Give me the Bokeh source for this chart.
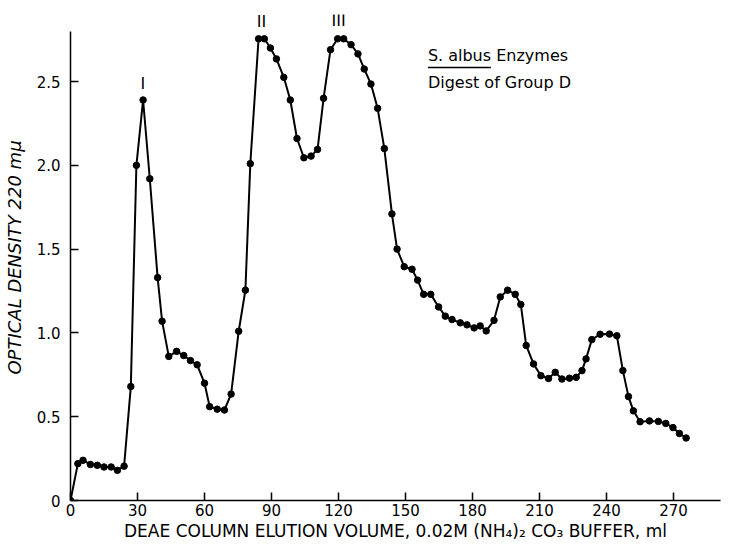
from bokeh.plotting import figure
from bokeh.models import FixedTicker, Range1d
from bokeh.core.properties import value
from bokeh.embed import file_html
from bokeh.resources import INLINE

# Elution volume (ml) and optical density at 220 mμ
volume_ml = [0, 3.3, 5.6, 8.9, 12, 15, 18.2, 21, 24, 27, 29.5, 32.5, 35.5, 39, 41, 44,
             47.5, 50.7, 53.7, 56.7, 60, 62.3, 65.7, 68.9, 71.9, 75.3, 78.3, 80.5,
             84.2, 86.8, 89.5, 92.2, 95.5, 98.4, 101.4, 104.5, 107.7, 110.6, 113.3,
             116.4, 119.6, 122.3, 125.6, 128.7, 131.5, 134.5, 137.5, 140.5, 143.9,
             146.2, 149.4, 152.9, 155.4, 158.1, 161.3, 164.8, 167.8, 170.8, 174.5,
             177.5, 180.7, 183.4, 186.1, 189.6, 192.4, 195.7, 199.1, 201.6, 204,
             207.3, 210.6, 214, 217, 220, 223.4, 226.4, 229, 230.8, 233.4, 237.1,
             241.3, 244.6, 247.3, 249.8, 252, 255, 259.2, 263.2, 266.5, 269.7,
             272.6, 275.6]
optical_density = [0, 0.22, 0.24, 0.215, 0.21, 0.2, 0.2, 0.18, 0.205, 0.68, 2.0, 2.39,
                   1.92, 1.33, 1.07, 0.86, 0.89, 0.865, 0.835, 0.81, 0.70, 0.56, 0.545,
                   0.54, 0.635, 1.01, 1.255, 2.01, 2.755, 2.755, 2.70, 2.635, 2.525,
                   2.39, 2.16, 2.045, 2.055, 2.095, 2.40, 2.69, 2.755, 2.755, 2.72,
                   2.665, 2.575, 2.485, 2.34, 2.10, 1.71, 1.50, 1.395, 1.38, 1.315,
                   1.23, 1.23, 1.155, 1.10, 1.08, 1.06, 1.048, 1.03, 1.042, 1.012,
                   1.075, 1.215, 1.255, 1.23, 1.17, 0.925, 0.815, 0.745, 0.728, 0.765,
                   0.725, 0.73, 0.735, 0.775, 0.845, 0.96, 0.992, 0.993, 0.983, 0.775,
                   0.62, 0.535, 0.47, 0.475, 0.472, 0.46, 0.435, 0.40, 0.373]

x_ticks = [0, 30, 60, 90, 120, 150, 180, 210, 240, 270]
y_ticks = [0, 0.5, 1.0, 1.5, 2.0, 2.5]
y_tick_labels = {0: "0", 0.5: "0.5", 1.0: "1.0", 1.5: "1.5", 2.0: "2.0", 2.5: "2.5"}

x_title = "DEAE COLUMN ELUTION VOLUME, 0.02M (NH₄)₂ CO₃ BUFFER, ml"
y_title = "OPTICAL DENSITY 220 mμ"

peak_labels = ["I", "II", "III"]
peak_x = [32.4, 85.5, 120.0]
peak_y = [2.49, 2.86, 2.865]

note_lines = ["S. albus Enzymes", "Digest of Group D"]
note_x = [160, 160]
note_y = [2.655, 2.497]

FONT = "DejaVu Sans"

p = figure(width=730, height=544, output_backend="svg", toolbar_location=None,
           x_range=Range1d(0, 291), y_range=Range1d(0, 2.9),
           min_border_left=70, min_border_right=10, min_border_top=14,
           min_border_bottom=44)
p.outline_line_color = None
p.xgrid.visible = False
p.ygrid.visible = False
p.background_fill_color = "white"
p.border_fill_color = "white"

p.line(volume_ml, optical_density, line_color="black", line_width=2)
p.scatter(volume_ml, optical_density, size=6.5, fill_color="black", line_color="black")

p.text(peak_x, peak_y, text=peak_labels, text_font=value(FONT), text_font_size="16px",
       text_align="center", text_baseline="middle", text_color="black")
p.text(note_x, note_y, text=note_lines, text_font=value(FONT), text_font_size="16px",
       text_align="left", text_baseline="middle", text_color="black")
# underline under "S. albus"
p.segment(x0=[160], y0=[2.584], x1=[188.2], y1=[2.584], line_color="black", line_width=1.5)

xa = p.xaxis[0]
xa.ticker = FixedTicker(ticks=x_ticks)
xa.bounds = (0, 291)
xa.major_tick_in = 8
xa.major_tick_out = 0
xa.minor_tick_line_color = None
xa.axis_line_width = 1.5
xa.major_tick_line_width = 1.5
xa.major_label_standoff = 3
xa.major_label_text_font = FONT
xa.major_label_text_font_size = "15px"
xa.major_label_text_color = "black"
xa.axis_label = x_title
xa.axis_label_text_font = FONT
xa.axis_label_text_font_size = "17px"
xa.axis_label_text_font_style = "normal"
xa.axis_label_standoff = 2
xa.axis_label_text_color = "black"

ya = p.yaxis[0]
ya.ticker = FixedTicker(ticks=y_ticks)
ya.bounds = (0, 2.8)
ya.major_label_overrides = y_tick_labels
ya.major_tick_in = 8
ya.major_tick_out = 0
ya.minor_tick_line_color = None
ya.axis_line_width = 1.5
ya.major_tick_line_width = 1.5
ya.major_label_standoff = 10
ya.major_label_text_font = FONT
ya.major_label_text_font_size = "15px"
ya.major_label_text_color = "black"
ya.axis_label = y_title
ya.axis_label_text_font = FONT
ya.axis_label_text_font_size = "18px"
ya.axis_label_text_font_style = "italic"
ya.axis_label_standoff = 9
ya.axis_label_text_color = "black"

open("out.html", "w").write(file_html(p, INLINE))
